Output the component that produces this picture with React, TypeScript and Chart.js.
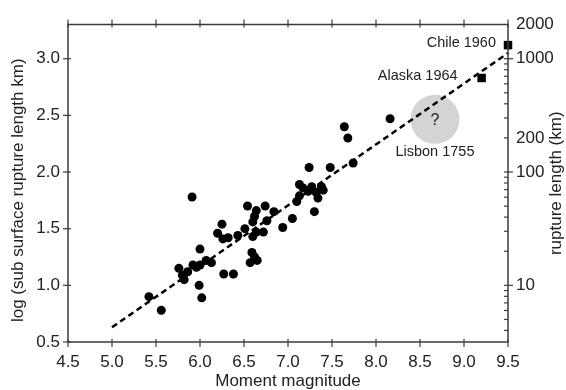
import React, { useEffect, useRef } from "react";
import { Chart, registerables } from "chart.js";

Chart.register(...registerables);

// ---- data ----
const magnitudes = [
  5.42, 5.56, 5.76, 5.8, 5.82, 5.86, 5.92, 5.96, 6.0, 6.07, 6.13, 5.91, 5.99, 6.02, 6.0, 6.27, 6.38,
  6.2, 6.25, 6.26, 6.32, 6.43, 6.51, 6.54, 6.59, 6.62, 6.57, 6.65, 6.6, 6.62, 6.64, 6.6, 6.64, 6.72,
  6.74, 6.76, 6.84, 6.94, 7.05,
  7.1, 7.13, 7.13, 7.17, 7.23, 7.27, 7.32, 7.34, 7.38, 7.4, 7.3, 7.24, 7.48, 7.64, 7.68, 7.74, 8.16,
];
const logLengths = [
  0.9, 0.78, 1.15, 1.09, 1.05, 1.12, 1.18, 1.16, 1.18, 1.22, 1.2, 1.78, 1.0, 0.89, 1.32, 1.1, 1.1,
  1.46, 1.54, 1.41, 1.42, 1.44, 1.5, 1.7, 1.29, 1.25, 1.2, 1.22, 1.56, 1.61, 1.66, 1.43, 1.47, 1.47,
  1.7, 1.57, 1.65, 1.51, 1.59,
  1.74, 1.79, 1.89, 1.86, 1.83, 1.87, 1.82, 1.77, 1.87, 1.84, 1.65, 2.04, 2.04, 2.4, 2.3, 2.08, 2.47,
];
const greatQuakeNames = ["Chile 1960", "Alaska 1964"];
const greatQuakeMag = [9.5, 9.2];
const greatQuakeLog = [3.12, 2.83];
const lisbonName = "Lisbon 1755";
const lisbonMag = [8.67];
const lisbonLog = [2.465];
const fitMag = [5.0, 9.5];
const fitLog = [0.63, 3.05];

const xTicks = [4.5, 5.0, 5.5, 6.0, 6.5, 7.0, 7.5, 8.0, 8.5, 9.0, 9.5];
const yTicks = [0.5, 1.0, 1.5, 2.0, 2.5, 3.0];
const rightTickLabels = [10, 100, 200, 1000, 2000];
const rightMajor = [10, 100, 1000];
const rightMinor = [4, 5, 6, 7, 8, 9, 20, 30, 40, 50, 60, 70, 80, 90, 200, 300, 400, 500, 600, 700, 800, 900];

const X_MIN = 4.5, X_MAX = 9.5, Y_MIN = 0.5, Y_MAX = 3.302;
const FONT = "'Liberation Sans', Arial, Helvetica, sans-serif";
const TEXT = "#222";
const AXIS = "#3c3c3c";

const framePlugin = {
  id: "frame",
  afterDatasetsDraw(chart: any) {
    const { ctx, chartArea: a, scales } = chart;
    const sx = scales.x, sy = scales.y;
    const seg = (x1: number, y1: number, x2: number, y2: number) => {
      ctx.beginPath(); ctx.moveTo(x1, y1); ctx.lineTo(x2, y2); ctx.stroke();
    };
    ctx.save();
    // annotations
    ctx.fillStyle = TEXT;
    ctx.font = `14.5px ${FONT}`;
    ctx.textBaseline = "middle";
    ctx.textAlign = "right";
    const offs = [12, 24];
    greatQuakeNames.forEach((n, i) => {
      const px = sx.getPixelForValue(greatQuakeMag[i]);
      const py = sy.getPixelForValue(greatQuakeLog[i]);
      ctx.fillText(n, px - offs[i], py - 2);
    });
    const lx = sx.getPixelForValue(lisbonMag[0]);
    const ly = sy.getPixelForValue(lisbonLog[0]);
    ctx.textAlign = "center";
    ctx.fillText(lisbonName, lx, ly + 33);
    ctx.font = `16px ${FONT}`;
    ctx.fillText("?", lx, ly + 1);

    // frame
    ctx.strokeStyle = AXIS;
    ctx.lineWidth = 1.5;
    ctx.strokeRect(a.left, a.top, a.right - a.left, a.bottom - a.top);
    ctx.lineWidth = 1.2;
    for (const v of xTicks) {
      const px = sx.getPixelForValue(v);
      seg(px, a.bottom - 3, px, a.bottom + 5);
      seg(px, a.top - 5, px, a.top + 3);
    }
    for (const v of yTicks) {
      const py = sy.getPixelForValue(v);
      seg(a.left - 5, py, a.left + 3, py);
    }
    for (const v of rightMajor) {
      const py = sy.getPixelForValue(Math.log10(v));
      seg(a.right - 4, py, a.right + 5, py);
    }
    for (const v of rightMinor) {
      const lv = Math.log10(v);
      if (lv < Y_MIN || lv > Y_MAX) continue;
      const py = sy.getPixelForValue(lv);
      seg(a.right - 4, py, a.right, py);
    }

    // axis titles
    ctx.fillStyle = TEXT;
    ctx.font = `17px ${FONT}`;
    ctx.textAlign = "center";
    ctx.textBaseline = "alphabetic";
    ctx.fillText("Moment magnitude", (a.left + a.right) / 2, a.bottom + 44);
    ctx.textBaseline = "middle";
    ctx.save();
    ctx.translate(a.left - 50, (a.top + a.bottom) / 2 + 7);
    ctx.rotate(-Math.PI / 2);
    ctx.fillText("log (sub surface rupture length km)", 0, 0);
    ctx.restore();
    ctx.save();
    ctx.translate(a.right + 48, (a.top + a.bottom) / 2);
    ctx.rotate(-Math.PI / 2);
    ctx.fillText("rupture length (km)", 0, 0);
    ctx.restore();
    ctx.restore();
  },
};

export default function App() {
  const ref = useRef<HTMLCanvasElement | null>(null);
  useEffect(() => {
    if (!ref.current) return;
    const tickFont = { family: FONT, size: 17 };
    const hiddenGrid = {
      display: true,
      drawOnChartArea: false,
      drawTicks: true,
      tickLength: 5,
      color: "rgba(0,0,0,0)",
    };
    const chart = new Chart(ref.current, {
      type: "scatter",
      data: {
        datasets: [
          {
            label: "earthquakes",
            data: magnitudes.map((m, i) => ({ x: m, y: logLengths[i] })),
            pointRadius: 4.5,
            backgroundColor: "#000",
            borderWidth: 0,
            order: 1,
            clip: false,
          },
          {
            label: "great",
            data: greatQuakeMag.map((m, i) => ({ x: m, y: greatQuakeLog[i] })),
            pointStyle: "rect",
            pointRadius: 6,
            backgroundColor: "#000",
            borderWidth: 0,
            order: 1,
            clip: false,
          },
          {
            label: "fit",
            data: fitMag.map((m, i) => ({ x: m, y: fitLog[i] })),
            showLine: true,
            borderColor: "#000",
            borderWidth: 2.5,
            borderDash: [6, 4],
            pointRadius: 0,
            order: 2,
            clip: false,
          } as any,
          {
            label: "lisbon",
            data: lisbonMag.map((m, i) => ({ x: m, y: lisbonLog[i] })),
            pointRadius: 24.5,
            backgroundColor: "#d4d4d4",
            borderWidth: 0,
            order: 3,
            clip: false,
          },
        ],
      },
      options: {
        responsive: false,
        animation: false,
        devicePixelRatio: 1,
        layout: { padding: { top: 19, left: 0, right: 0, bottom: 0 } },
        plugins: { legend: { display: false }, tooltip: { enabled: false } },
        events: [],
        scales: {
          x: {
            type: "linear",
            position: "bottom",
            min: X_MIN,
            max: X_MAX,
            afterBuildTicks: (s: any) => { s.ticks = xTicks.map((v) => ({ value: v })); },
            afterFit: (s: any) => { s.height = 48; },
            ticks: {
              font: tickFont,
              color: TEXT,
              padding: 5,
              maxRotation: 0,
              autoSkip: false,
              callback: (v: any) => Number(v).toFixed(1),
            },
            grid: hiddenGrid,
            border: { display: false },
          },
          y: {
            type: "linear",
            position: "left",
            min: Y_MIN,
            max: Y_MAX,
            afterBuildTicks: (s: any) => { s.ticks = yTicks.map((v) => ({ value: v })); },
            afterFit: (s: any) => { s.width = 68; },
            ticks: {
              font: tickFont,
              color: TEXT,
              padding: 3,
              autoSkip: false,
              callback: (v: any) => Number(v).toFixed(1),
            },
            grid: hiddenGrid,
            border: { display: false },
          },
          y2: {
            type: "linear",
            position: "right",
            min: Y_MIN,
            max: Y_MAX,
            afterBuildTicks: (s: any) => {
              s.ticks = rightTickLabels.map((v) => ({ value: Math.log10(v) }));
            },
            afterFit: (s: any) => { s.width = 58; },
            ticks: {
              font: tickFont,
              color: TEXT,
              padding: 3,
              autoSkip: false,
              callback: (v: any) => String(Math.round(Math.pow(10, Number(v)))),
            },
            grid: hiddenGrid,
            border: { display: false },
          },
        },
      },
      plugins: [framePlugin],
    } as any);
    return () => chart.destroy();
  }, []);
  return (
    <div style={{ position: "fixed", left: 0, top: 0, width: 566, height: 390, background: "#fff" }}>
      <canvas ref={ref} width={566} height={390} style={{ width: 566, height: 390, display: "block" }} />
    </div>
  );
}
